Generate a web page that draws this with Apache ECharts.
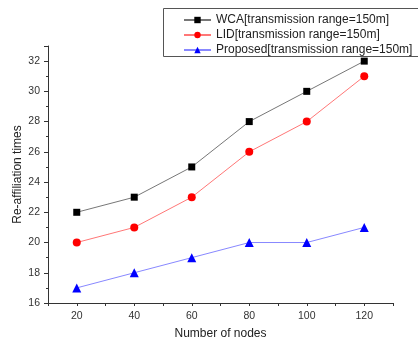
<!DOCTYPE html>
<html>
<head>
<meta charset="utf-8">
<script src="https://cdn.jsdelivr.net/npm/echarts@6/dist/echarts.min.js"></script>
<style>html,body{margin:0;padding:0;background:#fff;}#c{width:418px;height:339px;}</style>
</head>
<body>
<div id="c"></div>
<script>
var nodes = [20, 40, 60, 80, 100, 120];
var wca = [22, 23, 25, 28, 30, 32];
var lid = [20, 21, 23, 26, 28, 31];
var proposed = [17, 18, 19, 20, 20, 21];
var seriesNames = ['WCA[transmission range=150m]', 'LID[transmission range=150m]', 'Proposed[transmission range=150m]'];

function pairs(xs, ys) { return xs.map(function (x, i) { return [x, ys[i]]; }); }

var font = 'Liberation Sans, Arial, sans-serif';
var chart = echarts.init(document.getElementById('c'), null, { renderer: 'canvas' });
chart.setOption({
  animation: false,
  backgroundColor: '#fff',
  grid: { left: 48, right: 25, top: 46, bottom: 36, containLabel: false, outerBoundsMode: 'none' },
  graphic: [{
    type: 'rect', left: 163, top: 8, z: 0, silent: true,
    shape: { width: 300, height: 48 },
    style: { fill: '#fff', stroke: '#555', lineWidth: 1 }
  }],
  legend: {
    orient: 'vertical',
    left: 163, top: 8, z: 10,
    padding: [5, 4, 1, 20],
    itemWidth: 27, itemHeight: 8, itemGap: 1,
    textStyle: { fontFamily: font, fontSize: 12, color: '#222', lineHeight: 14 },
    data: seriesNames
  },
  xAxis: {
    type: 'value', min: 10, max: 130, interval: 10,
    name: 'Number of nodes', nameLocation: 'middle', nameGap: 25, nameMoveOverlap: false,
    nameTextStyle: { fontFamily: font, fontSize: 12, color: '#222' },
    axisLine: { show: true, onZero: false, lineStyle: { color: '#333', width: 1 } },
    axisTick: { show: true, inside: false, length: 3, lineStyle: { color: '#333' } },
    axisLabel: {
      fontFamily: font, fontSize: 10.5, color: '#333', margin: 8,
      formatter: function (v) { return (v % 20 === 0 && v >= 20 && v <= 120) ? String(v) : ''; }
    },
    splitLine: { show: false }
  },
  yAxis: {
    type: 'value', min: 16, max: 33, interval: 2,
    name: 'Re-affiliation times', nameLocation: 'middle', nameGap: 24, nameMoveOverlap: false,
    nameTextStyle: { fontFamily: font, fontSize: 12, color: '#222' },
    axisLine: { show: true, onZero: false, lineStyle: { color: '#333', width: 1 } },
    axisTick: { show: true, inside: false, length: 4, lineStyle: { color: '#333' } },
    minorTick: { show: true, splitNumber: 2, length: 2, lineStyle: { color: '#333' } },
    axisLabel: {
      fontFamily: font, fontSize: 10.5, color: '#333', margin: 8,
      formatter: function (v) { return (v % 2 === 0) ? String(v) : ''; }
    },
    splitLine: { show: false }
  },
  series: [
    {
      name: seriesNames[0], type: 'line', data: pairs(nodes, wca),
      symbol: 'rect', symbolSize: 7,
      itemStyle: { color: '#000' },
      lineStyle: { color: '#777', width: 1 }
    },
    {
      name: seriesNames[1], type: 'line', data: pairs(nodes, lid),
      symbol: 'circle', symbolSize: 8,
      itemStyle: { color: '#ff0000' },
      lineStyle: { color: '#ff7777', width: 1 }
    },
    {
      name: seriesNames[2], type: 'line', data: pairs(nodes, proposed),
      symbol: 'triangle', symbolSize: 9,
      itemStyle: { color: '#0000ff' },
      lineStyle: { color: '#8888ff', width: 1 }
    }
  ]
});
</script>
</body>
</html>
